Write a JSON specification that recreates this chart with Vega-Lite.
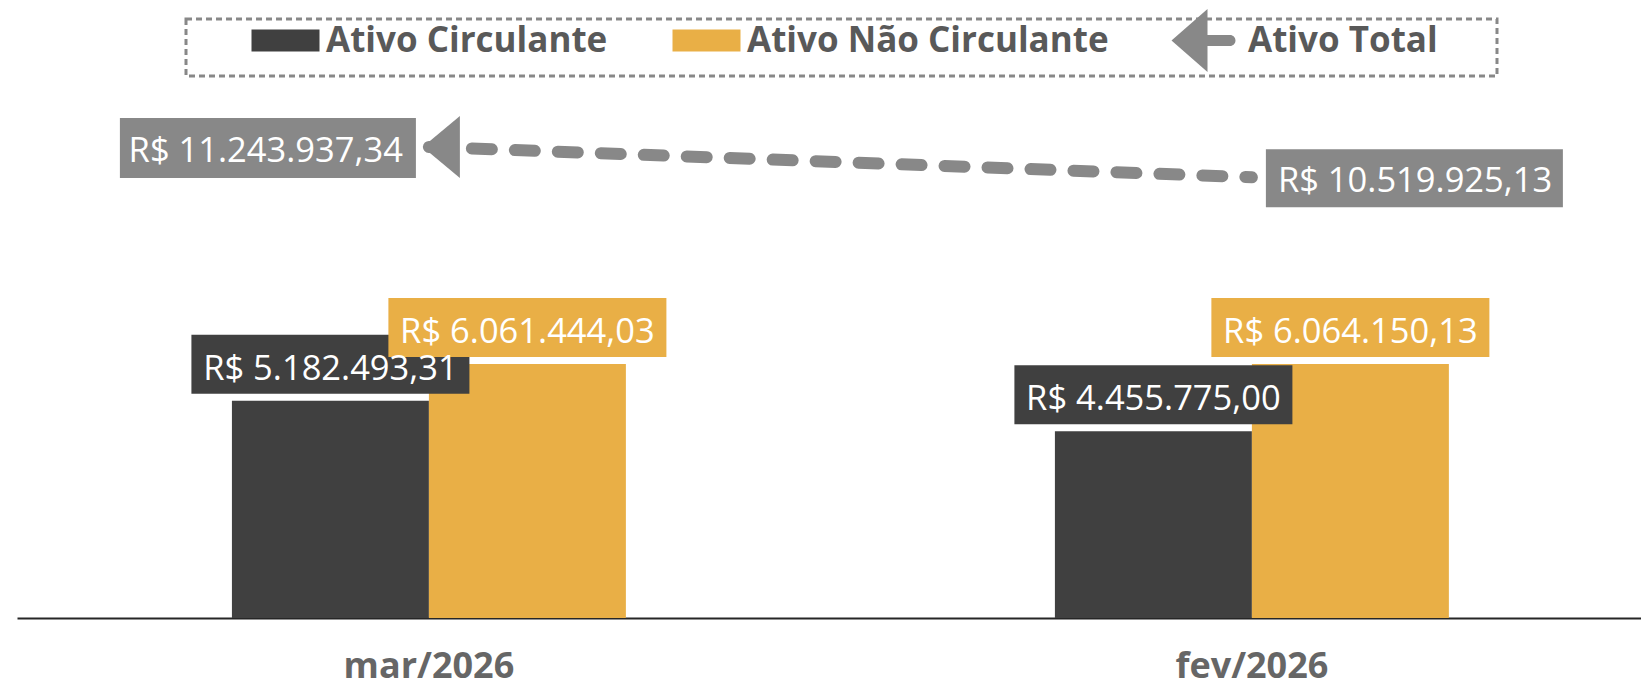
{
  "$schema": "https://vega.github.io/schema/vega-lite/v6.json",
  "width": 1624,
  "height": 618,
  "autosize": {"type": "none"},
  "padding": {"left": 17, "top": 0, "right": 0, "bottom": 71},
  "background": "white",
  "config": {
    "view": {"stroke": null},
    "font": "Open Sans",
    "locale": {"number": {"decimal": ",", "thousands": ".", "grouping": [3], "currency": ["R$ ", ""]}}
  },
  "datasets": {
    "bars": [
      {"month": "mar/2026", "series": "Ativo Circulante", "value": 5182493.31},
      {"month": "fev/2026", "series": "Ativo Circulante", "value": 4455775.00},
      {"month": "mar/2026", "series": "Ativo Não Circulante", "value": 6061444.03},
      {"month": "fev/2026", "series": "Ativo Não Circulante", "value": 6064150.13}
    ],
    "totals": [
      {"month": "mar/2026", "series": "Ativo Total", "value": 11243937.34},
      {"month": "fev/2026", "series": "Ativo Total", "value": 10519925.13}
    ]
  },
  "encoding": {
    "x": {
      "field": "month", "type": "nominal",
      "scale": {"domain": ["mar/2026", "fev/2026"], "paddingInner": 0.5213, "paddingOuter": 0.2473, "align": 0.528},
      "axis": {"title": null, "labelAngle": 0, "ticks": false, "grid": false, "domainColor": "#262626", "domainWidth": 2, "labelFont": "Open Sans", "labelFontWeight": "bold", "labelFontSize": 36, "labelColor": "#666666", "labelPadding": 31}
    },
    "y": {
      "field": "value", "type": "quantitative",
      "scale": {"domain": [0, 14750000], "nice": false, "zero": true},
      "axis": null
    }
  },
  "layer": [
    {
      "data": {"name": "bars"},
      "mark": {"type": "bar"},
      "encoding": {
        "xOffset": {"field": "series", "type": "nominal", "scale": {"domain": ["Ativo Circulante", "Ativo Não Circulante"]}},
        "color": {
          "field": "series", "type": "nominal",
          "scale": {"domain": ["Ativo Circulante", "Ativo Não Circulante", "Ativo Total"], "range": ["#404040", "#E9AF46", "#888888"]},
          "legend": {
            "orient": "none", "legendX": 169, "legendY": 19, "direction": "horizontal", "columns": 3,
            "title": null,
            "labelFont": "Open Sans", "labelFontWeight": "bold", "labelFontSize": 35, "labelColor": "#595959", "labelLimit": 1000,
            "labelExpr": "datum.label === 'Ativo Total' ? datum.label + '      \u200b' : datum.label",
            "symbolSize": 400, "labelOffset": 101, "columnPadding": 3, "padding": 4,
            "strokeColor": "#888888", "symbolStrokeWidth": 0, "symbolOpacity": 1,
            "encode": {
              "legend": {"update": {"strokeDash": {"value": [6, 4]}, "strokeWidth": {"value": 3}}},
              "symbols": {"update": {"shape": {"signal": "datum.value === 'Ativo Total' ? 'M4.2,0L7.8,-3.15L7.8,-0.55L10.05,-0.55A0.55,0.55,0,0,1,10.05,0.55L7.8,0.55L7.8,3.15Z' : 'M4.4,-3.15M4.4,3.15M4.4,-1.1L11.2,-1.1L11.2,1.1L4.4,1.1Z'"}}}
            }
          }
        }
      }
    },
    {
      "data": {"name": "totals"},
      "mark": {"type": "line", "color": "#888888", "strokeWidth": 12, "strokeDash": [20, 23], "strokeCap": "round"},
      "encoding": {}
    },
    {
      "data": {"name": "totals"},
      "transform": [{"filter": "datum.month === 'mar/2026'"}],
      "mark": {"type": "point", "shape": "M-0.2,0L1,-1L1,1Z", "size": 3844, "filled": true, "color": "#888888", "opacity": 1, "strokeWidth": 0},
      "encoding": {}
    },
    {
      "data": {"name": "totals"},
      "transform": [{"filter": "datum.month === 'mar/2026'"}],
      "mark": {"type": "point", "shape": "M-3.09,-0.29L-0.13,-0.29L-0.13,0.31L-3.09,0.31Z", "size": 40000, "filled": true, "color": "#888888", "opacity": 1, "strokeWidth": 0},
      "encoding": {}
    },
    {
      "data": {"name": "totals"},
      "transform": [{"filter": "datum.month === 'mar/2026'"}],
      "mark": {"type": "text", "align": "right", "baseline": "alphabetic", "dx": -26, "dy": 15, "fontSize": 34.5, "font": "Open Sans", "color": "#ffffff"},
      "encoding": {"text": {"field": "value", "type": "quantitative", "format": "$,.2f"}}
    },
    {
      "data": {"name": "totals"},
      "transform": [{"filter": "datum.month === 'fev/2026'"}],
      "mark": {"type": "point", "shape": "M0.14,-0.28L3.11,-0.28L3.11,0.3L0.14,0.3Z", "size": 40000, "filled": true, "color": "#888888", "opacity": 1, "strokeWidth": 0},
      "encoding": {}
    },
    {
      "data": {"name": "totals"},
      "transform": [{"filter": "datum.month === 'fev/2026'"}],
      "mark": {"type": "text", "align": "left", "baseline": "alphabetic", "dx": 26, "dy": 15, "fontSize": 34.5, "font": "Open Sans", "color": "#ffffff"},
      "encoding": {"text": {"field": "value", "type": "quantitative", "format": "$,.2f"}}
    },
    {
      "data": {"name": "bars"},
      "mark": {"type": "point", "shape": "M-1.39,-0.66L1.39,-0.66L1.39,-0.07L-1.39,-0.07Z", "size": 40000, "filled": true, "opacity": 1, "strokeWidth": 0},
      "encoding": {
        "xOffset": {"field": "series", "type": "nominal", "scale": {"domain": ["Ativo Circulante", "Ativo Não Circulante"]}},
        "color": {"field": "series", "type": "nominal"}
      }
    },
    {
      "data": {"name": "bars"},
      "mark": {"type": "text", "align": "center", "baseline": "alphabetic", "dy": -21, "fontSize": 34.5, "font": "Open Sans", "color": "#ffffff"},
      "encoding": {
        "xOffset": {"field": "series", "type": "nominal", "scale": {"domain": ["Ativo Circulante", "Ativo Não Circulante"]}},
        "text": {"field": "value", "type": "quantitative", "format": "$,.2f"}
      }
    }
  ]
}
